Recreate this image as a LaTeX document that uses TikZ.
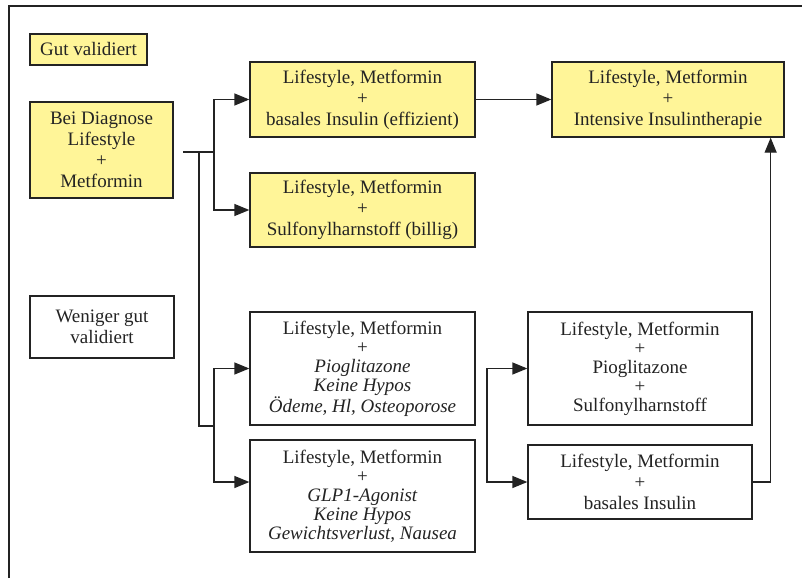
\documentclass[tikz,border=0pt]{standalone}
\usepackage{fontspec}
\setmainfont{Liberation Serif}
\usetikzlibrary{arrows.meta,calc}
\definecolor{boxyellow}{RGB}{255,245,152}
\definecolor{linegray}{RGB}{35,35,35}
\tikzset{
  box/.style={draw=linegray, line width=1.3pt, align=center, inner sep=2pt,
    font=\fontsize{19}{21}\selectfont, text=linegray},
  gbox/.style={box, fill=boxyellow},
  wbox/.style={box, fill=white},
  tight/.style={font=\fontsize{19}{19}\selectfont},
  conn/.style={draw=linegray, line width=1.3pt},
  arr/.style={conn, -{Triangle[length=15pt,width=12pt]}},
}
\begin{document}
\begin{tikzpicture}[x=1pt,y=-1pt]
\useasboundingbox (0,0) rectangle (802,578);
\draw[conn] (9,578) -- (9,6) -- (802,6);

\node[gbox, minimum width=117pt, minimum height=31pt] (gut) at (88.5,49.5) {Gut validiert};
\node[gbox, minimum width=143pt, minimum height=96pt] (diag) at (101.5,150) {Bei Diagnose\\Lifestyle\\+\\Metformin};
\node[gbox, minimum width=225pt, minimum height=75pt] (A) at (362.5,99.5) {Lifestyle, Metformin\\+\\basales Insulin (effizient)};
\node[gbox, minimum width=225pt, minimum height=74pt] (B) at (362.5,210) {Lifestyle, Metformin\\+\\Sulfonylharnstoff (billig)};
\node[gbox, minimum width=232pt, minimum height=75pt] (C) at (668,99.5) {Lifestyle, Metformin\\+\\Intensive Insulintherapie};
\node[wbox, minimum width=144pt, minimum height=62pt] (wen) at (102,327) {Weniger gut\\validiert};
\node[wbox, tight, minimum width=225pt, minimum height=113pt] (D) at (362.5,368.5)
  {Lifestyle, Metformin\\+\\\textit{Pioglitazone}\\\textit{Keine Hypos}\\\textit{Ödeme, Hl, Osteoporose}};
\node[wbox, tight, minimum width=225pt, minimum height=112pt] (E) at (362.5,496)
  {Lifestyle, Metformin\\+\\\textit{GLP1-Agonist}\\\textit{Keine Hypos}\\\textit{Gewichtsverlust, Nausea}};
\node[wbox, tight, minimum width=224pt, minimum height=113pt] (F) at (640,368.5)
  {Lifestyle, Metformin\\+\\Pioglitazone\\+\\Sulfonylharnstoff};
\node[wbox, minimum width=224pt, minimum height=74pt] (G) at (640,482) {Lifestyle, Metformin\\+\\basales Insulin};

\coordinate (s) at (183,152);
\coordinate (t1) at (199,152);
\coordinate (t2) at (199,426);
\coordinate (b1) at (214,152);
\coordinate (b2) at (214,426);
\coordinate (k) at (487,425);

\draw[conn] (s) -- (b1);
\draw[conn] (t1) -- (t2) -- (b2);
\draw[arr] (b1) |- (A.west);
\draw[arr] (b1) |- (B.west);
\draw[arr] (b2) |- (D.west);
\draw[arr] (b2) |- (E.west |- G.west);
\draw[arr] (A.east) -- (C.west);
\draw[arr] (k) |- (F.west);
\draw[arr] (k) |- (G.west);
\draw[arr] (G.east) -| ([xshift=-14pt]C.south east);
\end{tikzpicture}
\end{document}
